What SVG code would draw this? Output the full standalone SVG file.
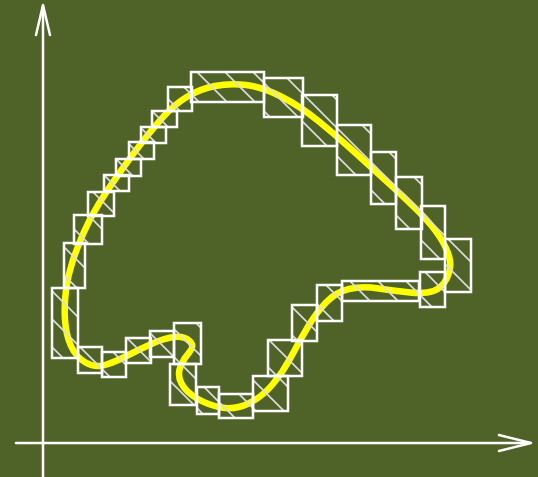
<svg xmlns="http://www.w3.org/2000/svg" width="538" height="477" viewBox="0 0 538 477">
<style>
.axis{stroke:#ffffff;stroke-width:2.5;fill:none;stroke-linecap:round;stroke-linejoin:round}
.curve{stroke:#ffff00;stroke-width:6.5;fill:none;stroke-linejoin:round}
.cell{fill:url(#hatch);stroke:#ffffff;stroke-width:2.5}
</style>
<defs>
<pattern id="hatch" patternUnits="userSpaceOnUse" x="13" y="0" width="28" height="28">
<path d="M-2,-2 L30,30 M26,-2 L30,2 M-2,26 L2,30" stroke="#dcdcdc" stroke-width="1.6" fill="none"/>
</pattern>
</defs>
<rect x="0" y="0" width="538" height="477" fill="#4f6228"/>
<g id="axes">
<g id="y-axis"><path class="axis" d="M43,477 L43,6"/><path class="axis" d="M36,35 L43,5 L50,35"/></g>
<g id="x-axis"><path class="axis" d="M16,443 L530,443"/><path class="axis" d="M499,435 L531,443 L499,451"/></g>
</g>
<g id="curve">
<path class="curve" d="M215,86 Q230,83 246,85 Q262,87 281,96.5 Q300,106 319,121.5 Q338,137 355,152.5 Q372,168 388.5,183 Q405,198 418.5,211.5 Q432,225 439.5,236.5 Q447,248 449.5,258 Q452,268 447,278 Q442,288 433.5,291 Q425,294 410,292.5 Q395,291 378.5,288.5 Q362,286 349,289 Q336,292 326,302.5 Q316,313 307.5,327.5 Q299,342 291,357 Q283,372 272.5,384.5 Q262,397 248.5,403.5 Q235,410 221.5,407.5 Q208,405 197,398.5 Q186,392 181.5,383.5 Q177,375 180.5,366.5 Q184,358 189.5,352 Q195,346 189.5,341 Q184,336 174.5,337 Q165,338 152.5,343.5 Q140,349 127.5,355.5 Q115,362 105,365 Q95,368 85.5,362.5 Q76,357 71,346 Q66,335 65,320 Q64,305 66,290 Q68,275 72.5,261.5 Q77,248 83.5,233 Q90,218 99,203.5 Q108,189 119,173.5 Q130,158 141.5,143 Q153,128 164,116 Q175,104 187.5,96.5 Q200,89 215,86 Z"/>
</g>
<g id="cells">
<rect id="c1" class="cell" x="191" y="72" width="73" height="30"/>
<rect id="c2" class="cell" x="168" y="87" width="24" height="24"/>
<rect id="c3" class="cell" x="152" y="111" width="25" height="16"/>
<rect id="c4" class="cell" x="141" y="127" width="25" height="16"/>
<rect id="c5" class="cell" x="129" y="142" width="25" height="17"/>
<rect id="c6" class="cell" x="116" y="159" width="25" height="17"/>
<rect id="c7" class="cell" x="104" y="175" width="25" height="16"/>
<rect id="c8" class="cell" x="88" y="192" width="26" height="24"/>
<rect id="c9" class="cell" x="74" y="215" width="28" height="29"/>
<rect id="c10" class="cell" x="64" y="243" width="21" height="45"/>
<rect id="c11" class="cell" x="52" y="288" width="26" height="70"/>
<rect id="c12" class="cell" x="78" y="347" width="24" height="26"/>
<rect id="c13" class="cell" x="102" y="352" width="24" height="25"/>
<rect id="c14" class="cell" x="126" y="338" width="25" height="25"/>
<rect id="c15" class="cell" x="150" y="331" width="24" height="26"/>
<rect id="c16" class="cell" x="174" y="323" width="27" height="41"/>
<rect id="c17" class="cell" x="170" y="364" width="26" height="41"/>
<rect id="c18" class="cell" x="197" y="387" width="22" height="27"/>
<rect id="c19" class="cell" x="219" y="394" width="34" height="24"/>
<rect id="c20" class="cell" x="253" y="376" width="35" height="35"/>
<rect id="c21" class="cell" x="268" y="340" width="34" height="36"/>
<rect id="c22" class="cell" x="292" y="305" width="25" height="36"/>
<rect id="c23" class="cell" x="317" y="285" width="25" height="36"/>
<rect id="c24" class="cell" x="342" y="281" width="77" height="20"/>
<rect id="c25" class="cell" x="420" y="272" width="25" height="35"/>
<rect id="c26" class="cell" x="445" y="239" width="26" height="53"/>
<rect id="c27" class="cell" x="421" y="206" width="24" height="53"/>
<rect id="c28" class="cell" x="396" y="177" width="26" height="52"/>
<rect id="c29" class="cell" x="371" y="152" width="25" height="52"/>
<rect id="c30" class="cell" x="337" y="125" width="34" height="50"/>
<rect id="c31" class="cell" x="302" y="95" width="35" height="51"/>
<rect id="c32" class="cell" x="264" y="78" width="39" height="39"/>
</g>
</svg>
